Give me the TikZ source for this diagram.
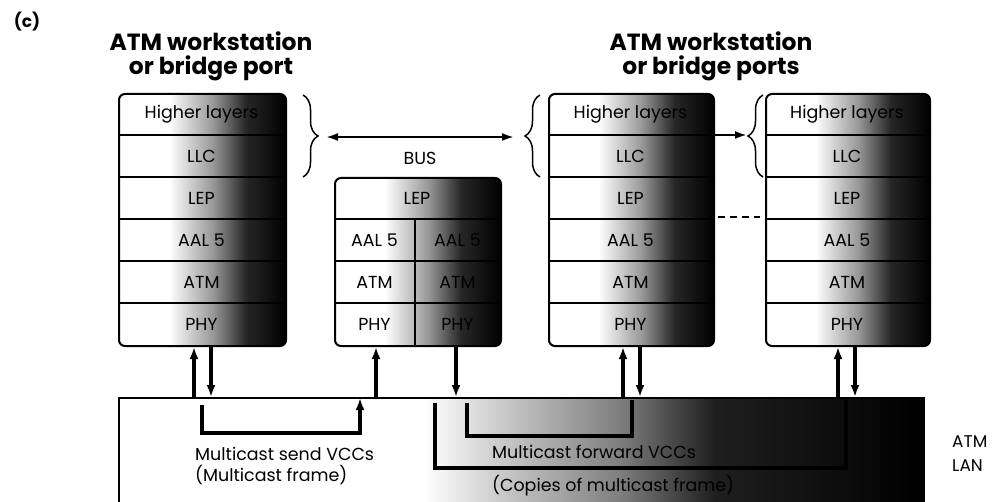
\documentclass[tikz,border=0pt]{standalone}
\usepackage{fontspec}
\setmainfont{Poppins}
\usetikzlibrary{arrows.meta,decorations.pathreplacing}
\pgfdeclarehorizontalshading{boxshade}{100bp}{color(0bp)=(white); color(25bp)=(white); color(40bp)=(white); color(53bp)=(black!40); color(63bp)=(black!85); color(75bp)=(black); color(100bp)=(black)}
\pgfdeclarehorizontalshading{lanshade}{100bp}{color(0bp)=(white); color(25bp)=(white); color(44bp)=(white); color(49bp)=(black!22); color(56bp)=(black!50); color(62bp)=(black!88); color(75bp)=(black); color(100bp)=(black)}
\begin{document}
\begin{tikzpicture}[x=1bp,y=-1bp,
  stack/.style={draw, line width=2bp, rounded corners=6bp, shading=boxshade, anchor=north west, inner sep=0pt},
  rowline/.style={line width=2bp},
  lbl/.style={font=\fontsize{17.5}{21}\selectfont, inner sep=0pt},
  ttl/.style={font=\fontsize{23.5}{24}\selectfont\bfseries, align=center, inner sep=0pt},
  vc/.style={line width=3.2bp, -{Latex[length=12bp,width=9bp]}},
  vcc/.style={line width=3.2bp},
  busarrow/.style={line width=2.2bp, {Latex[length=12bp,width=8bp]}-{Latex[length=12bp,width=8bp]}},
  onearrow/.style={line width=2.2bp, -{Latex[length=12bp,width=8bp]}},
  bracestyle/.style={line width=1.5bp, decorate, decoration={brace, amplitude=15bp}},
]
\useasboundingbox (0,0) rectangle (995,502);

% caption and titles
\node[font=\fontsize{17}{18}\selectfont\bfseries, inner sep=0pt] (lbc) at (27,22) {(c)};
\node[ttl] (t1) at (211,56) {ATM workstation\\or bridge port};
\node[ttl] (t2) at (711,56) {ATM workstation\\or bridge ports};

% LAN
\node[draw, line width=2bp, shading=lanshade, anchor=north west, minimum width=805bp, minimum height=140bp, inner sep=0pt] (lan) at (118,397) {};
\node[lbl, align=left, anchor=west, font=\fontsize{17}{24}\selectfont] (lanlbl) at (952,454) {ATM\\LAN};

% workstation 1
\node[stack, minimum width=167bp, minimum height=252bp] (ws1) at (118,93) {};
\foreach \y in {135,177,219,261,303} \draw[rowline] (ws1.west |- 0,\y) -- (ws1.east |- 0,\y);
\node[lbl] (w1a) at (201.5,114) {Higher layers};
\node[lbl] (w1b) at (201.5,156) {LLC};
\node[lbl] (w1c) at (201.5,198) {LEP};
\node[lbl] (w1d) at (201.5,240) {AAL 5};
\node[lbl] (w1e) at (201.5,282) {ATM};
\node[lbl] (w1f) at (201.5,324) {PHY};

% BUS
\node[stack, minimum width=166bp, minimum height=168bp] (bs) at (334,177) {};
\foreach \y in {219,261,303} \draw[rowline] (bs.west |- 0,\y) -- (bs.east |- 0,\y);
\draw[rowline] (415,219) -- (415,0 |- bs.south);
\node[lbl] (bsa) at (417,198) {LEP};
\node[lbl] (bsb) at (374.5,240) {AAL 5};
\node[lbl] (bsc) at (374.5,282) {ATM};
\node[lbl] (bsd) at (374.5,324) {PHY};
\node[lbl] (bse) at (457.5,240) {AAL 5};
\node[lbl] (bsf) at (457.5,282) {ATM};
\node[lbl] (bsg) at (457.5,324) {PHY};
\node[lbl] (bus) at (420,158) {BUS};

% workstation 3
\node[stack, minimum width=165bp, minimum height=252bp] (ws3) at (548,93) {};
\foreach \y in {135,177,219,261,303} \draw[rowline] (ws3.west |- 0,\y) -- (ws3.east |- 0,\y);
\node[lbl] (w3a) at (630.5,114) {Higher layers};
\node[lbl] (w3b) at (630.5,156) {LLC};
\node[lbl] (w3c) at (630.5,198) {LEP};
\node[lbl] (w3d) at (630.5,240) {AAL 5};
\node[lbl] (w3e) at (630.5,282) {ATM};
\node[lbl] (w3f) at (630.5,324) {PHY};

% workstation 4
\node[stack, minimum width=164bp, minimum height=252bp] (ws4) at (765,93) {};
\foreach \y in {135,177,219,261,303} \draw[rowline] (ws4.west |- 0,\y) -- (ws4.east |- 0,\y);
\node[lbl] (w4a) at (847,114) {Higher layers};
\node[lbl] (w4b) at (847,156) {LLC};
\node[lbl] (w4c) at (847,198) {LEP};
\node[lbl] (w4d) at (847,240) {AAL 5};
\node[lbl] (w4e) at (847,282) {ATM};
\node[lbl] (w4f) at (847,324) {PHY};

% braces
\draw[bracestyle] (303,95) -- (303,177);
\draw[bracestyle] (540,177) -- (540,95);
\draw[bracestyle] (763,177) -- (763,95);
\coordinate (b1tip) at (326,137);
\coordinate (b3tip) at (514,137);
\coordinate (b4tip) at (747,135);
\draw[busarrow] (b1tip) -- (b3tip);
\draw[onearrow] (ws3.east |- 0,135) -- (b4tip);

% dashed
\coordinate (d0) at (718,217);
\coordinate (d1) at (760,217);
\draw[line width=1.8bp, dash pattern=on 7bp off 5bp] (d0) -- (d1);

% vertical arrows
\draw[vc] (194,0 |- lan.north) -- (194,0 |- ws1.south);
\draw[vc] (211,0 |- ws1.south) -- (211,0 |- lan.north);
\draw[vc] (376,0 |- lan.north) -- (376,0 |- bs.south);
\draw[vc] (456,0 |- bs.south) -- (456,0 |- lan.north);
\draw[vc] (623,0 |- lan.north) -- (623,0 |- ws3.south);
\draw[vc] (640,0 |- ws3.south) -- (640,0 |- lan.north);
\draw[vc] (838,0 |- lan.north) -- (838,0 |- ws4.south);
\draw[vc] (855,0 |- ws4.south) -- (855,0 |- lan.north);

% multicast send VCC
\coordinate (s0) at (202,405);
\coordinate (s1) at (360,398);
\draw[vc] (s0) -- ++(0,28) -| (s1);
\node[lbl, align=left, anchor=west] (sendlbl) at (195,466) {Multicast send VCCs\\(Multicast frame)};

% multicast forward VCCs
\coordinate (f0) at (467,403);
\coordinate (f1) at (632,400);
\coordinate (g0) at (435,403);
\coordinate (g1) at (846,400);
\draw[vcc] (f0) -- ++(0,33) -| (f1);
\draw[vcc] (g0) -- ++(0,65) -| (g1);
\node[lbl, anchor=west] (fwdlbl) at (492,452) {Multicast forward VCCs};
\node[lbl, anchor=west] (cplbl) at (492,486) {(Copies of multicast frame)};
\end{tikzpicture}
\end{document}
